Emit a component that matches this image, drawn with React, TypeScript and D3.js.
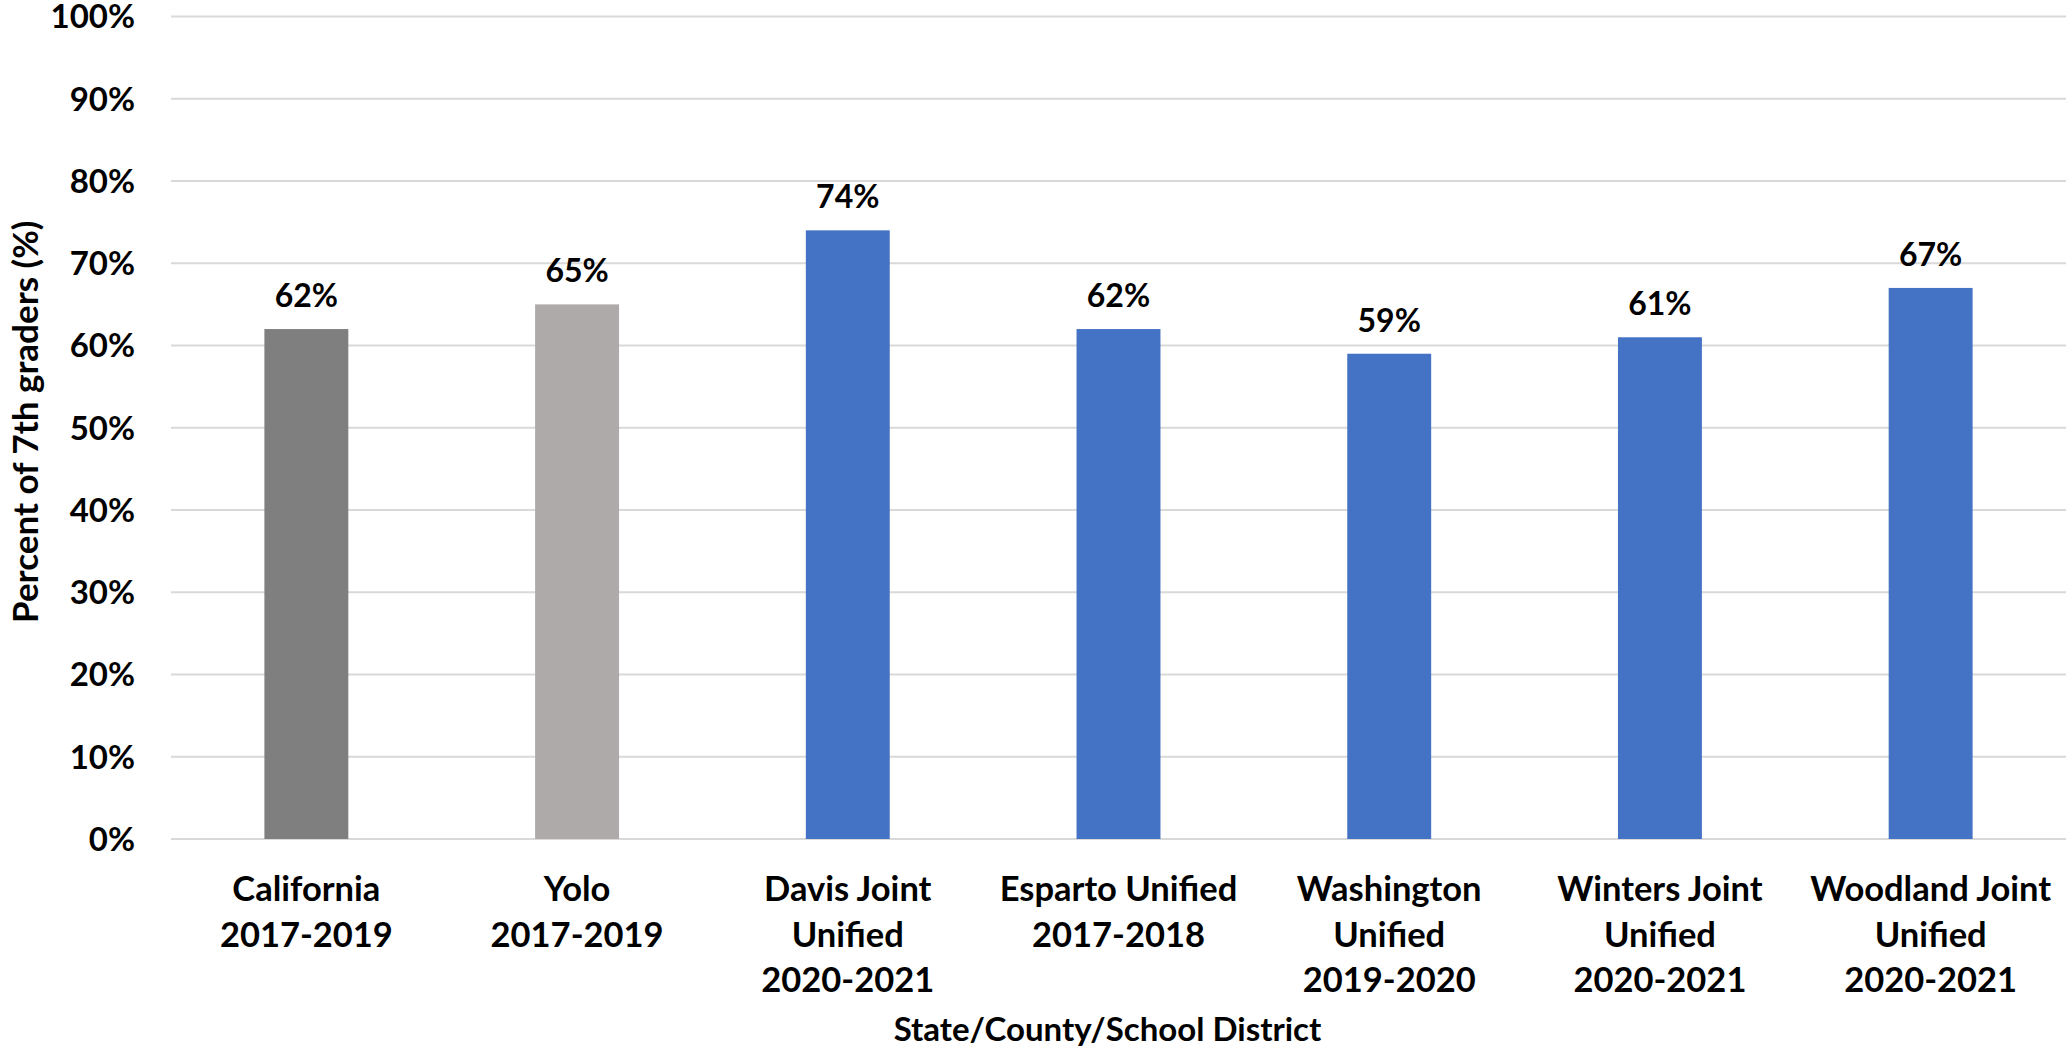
import React from "react";
import * as d3 from "d3";

const categories: string[] = [
  "California\n2017-2019",
  "Yolo\n2017-2019",
  "Davis Joint\nUnified\n2020-2021",
  "Esparto Unified\n2017-2018",
  "Washington\nUnified\n2019-2020",
  "Winters Joint\nUnified\n2020-2021",
  "Woodland Joint\nUnified\n2020-2021",
];
const values: number[] = [62, 65, 74, 62, 59, 61, 67];
const barColors: string[] = ["#7F7F7F", "#AEAAAA", "#4472C4", "#4472C4", "#4472C4", "#4472C4", "#4472C4"];
const yTicks: number[] = [0, 10, 20, 30, 40, 50, 60, 70, 80, 90, 100];
const yTitle = "Percent of 7th graders (%)";
const xTitle = "State/County/School District";

const W = 2066;
const H = 1053;
const FONT = "Lato, 'Open Sans', sans-serif";

export default function App() {
  const left = 171;
  const right = 2066;
  const top = 16.5;
  const bottom = 839;

  const x = d3
    .scaleBand<string>()
    .domain(categories)
    .range([left, right])
    .paddingInner(0.69)
    .paddingOuter(0.345);
  const y = d3.scaleLinear().domain([0, 100]).range([bottom, top]);

  return (
    <div style={{ position: "absolute", left: 0, top: 0 }}>
      <svg width={W} height={H} style={{ display: "block", background: "#fff" }}>
        <g fontFamily={FONT} fontWeight="bold" fill="#000">
          {yTicks.map((t) => (
            <g key={t}>
              <line x1={left} x2={right} y1={y(t)} y2={y(t)} stroke="#D9D9D9" strokeWidth={2.2} />
              <text x={135} y={y(t)} dy="0.36em" textAnchor="end" fontSize={33}>
                {t}%
              </text>
            </g>
          ))}
          {categories.map((c, i) => {
            const bx = x(c) as number;
            const bw = x.bandwidth();
            return (
              <g key={c}>
                <rect x={bx} y={y(values[i])} width={bw} height={y(0) - y(values[i])} fill={barColors[i]} />
                <text x={bx + bw / 2} y={y(values[i]) - 22} textAnchor="middle" fontSize={32}>
                  {values[i]}%
                </text>
                {c.split("\n").map((line, j) => (
                  <text key={j} x={bx + bw / 2} y={bottom + 62 + j * 45.5} textAnchor="middle" fontSize={34.5}>
                    {line}
                  </text>
                ))}
              </g>
            );
          })}
          <text x={(left + right) / 2 - 11} y={1041} textAnchor="middle" fontSize={33}>
            {xTitle}
          </text>
          <text
            transform={`translate(38, ${(top + bottom) / 2 - 6}) rotate(-90)`}
            textAnchor="middle"
            fontSize={35}
          >
            {yTitle}
          </text>
        </g>
      </svg>
    </div>
  );
}
